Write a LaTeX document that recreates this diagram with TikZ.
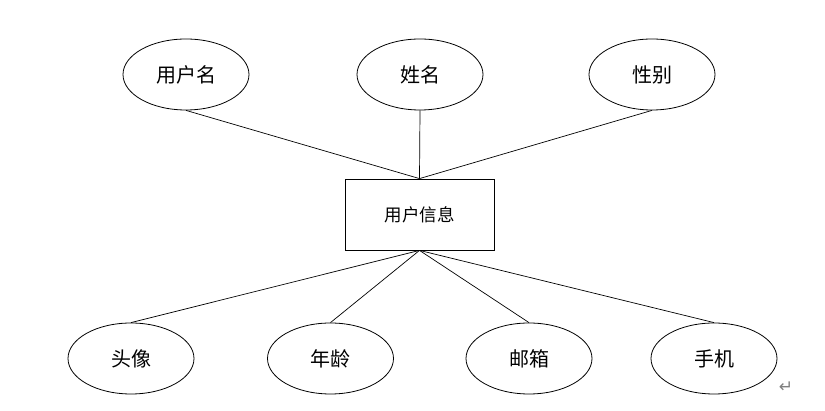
\documentclass[tikz,border=0pt]{standalone}
\usepackage{fontspec}
\newfontfamily\cjk{Noto Sans CJK SC}
\newfontfamily\dejavu{DejaVu Sans}
\usetikzlibrary{shapes.geometric}
\begin{document}
\begin{tikzpicture}[x=1pt,y=-1pt,
  attr/.style={draw,ellipse,line width=0.8pt,minimum width=126pt,minimum height=71pt,inner sep=0pt,font=\cjk\fontsize{20}{23}\selectfont},
  ent/.style={draw,rectangle,line width=0.8pt,minimum width=149pt,minimum height=71pt,inner sep=0pt,font=\cjk\fontsize{17.5}{20}\selectfont},
  conn/.style={line width=0.7pt}]
\useasboundingbox (0,0) rectangle (825,411);
\node[ent] (e) at (419.5,214.5) {用户信息};
\node[attr] (a1) at (186,74.5) {用户名};
\node[attr] (a2) at (420,74.5) {姓名};
\node[attr] (a3) at (652,74.5) {性别};
\node[attr] (b1) at (131,358.5) {头像};
\node[attr] (b2) at (330.5,358.5) {年龄};
\node[attr] (b3) at (529,358.5) {邮箱};
\node[attr] (b4) at (714,358.5) {手机};
\foreach \a in {a1,a2,a3} \draw[conn] (\a.south) -- (e.north);
\foreach \b in {b1,b2,b3,b4} \draw[conn] (e.south) -- (\b.north);
\node[text=gray,font=\dejavu\fontsize{17}{19}\selectfont,inner sep=0pt] (ret) at (786,387) {↵};
\end{tikzpicture}
\end{document}
